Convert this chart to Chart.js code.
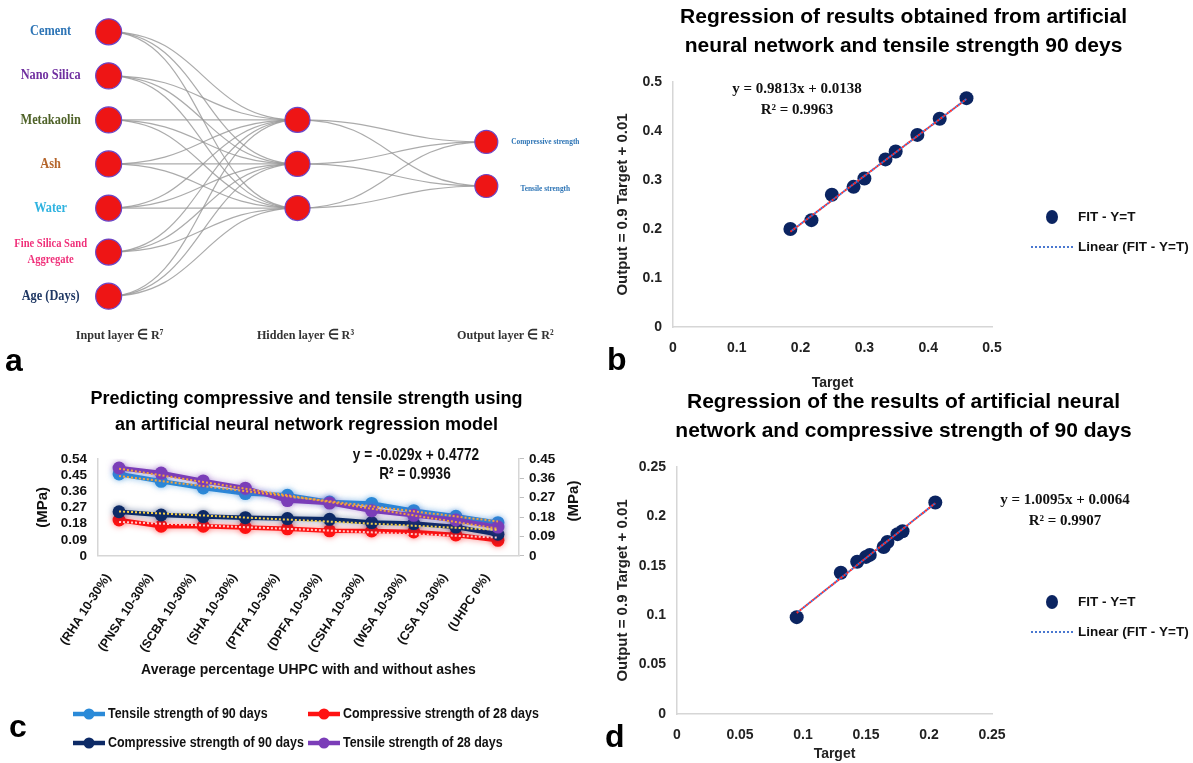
<!DOCTYPE html>
<html><head><meta charset="utf-8">
<script src="https://cdn.jsdelivr.net/npm/chart.js@4.4.1/dist/chart.umd.min.js"></script>
<style>
html,body{margin:0;padding:0;background:#fff;width:1193px;height:763px;overflow:hidden;position:relative;}
canvas{position:absolute;}
.lbl{position:absolute;font:bold 32px "Liberation Sans",Arial,sans-serif;color:#000;line-height:32px;}
</style></head><body>
<canvas id="ca" width="600" height="372" style="left:0px;top:0px"></canvas>
<canvas id="cb" width="593" height="392" style="left:600px;top:0px"></canvas>
<canvas id="cc" width="600" height="383" style="left:0px;top:380px"></canvas>
<canvas id="cd" width="593" height="378" style="left:600px;top:385px"></canvas>
<div class="lbl" style="left:5px;top:344px">a</div>
<div class="lbl" style="left:607px;top:343px">b</div>
<div class="lbl" style="left:9px;top:710px">c</div>
<div class="lbl" style="left:605px;top:720px">d</div>
<script>
// ---------------- DATA ----------------
const inputNodes = ['Cement', 'Nano Silica', 'Metakaolin', 'Ash', 'Water', 'Fine Silica Sand\nAggregate', 'Age (Days)'];
const hiddenNodeCount = 3;
const outputNodes = ['Compressive strength', 'Tensile strength'];
const layerTitles = ['Input layer \u2208 R\u2077', 'Hidden layer \u2208 R\u00B3', 'Output layer \u2208 R\u00B2'];

const bTarget = [0.184, 0.217, 0.249, 0.283, 0.300, 0.333, 0.349, 0.383, 0.418, 0.460];
const bOutput = [0.200, 0.218, 0.270, 0.286, 0.303, 0.342, 0.358, 0.392, 0.425, 0.467];
const bSlope = 0.9813, bIntercept = 0.0138, bR2 = '0.9963';
const bTicks = [0, 0.1, 0.2, 0.3, 0.4, 0.5];

const dTarget = [0.095, 0.130, 0.143, 0.150, 0.153, 0.164, 0.167, 0.175, 0.179, 0.205];
const dOutput = [0.098, 0.143, 0.154, 0.159, 0.161, 0.169, 0.174, 0.182, 0.185, 0.214];
const dSlope = 1.0095, dIntercept = 0.0064, dR2 = '0.9907';
const dTicks = [0, 0.05, 0.1, 0.15, 0.2, 0.25];

const cCategories = ['(RHA 10-30%)', '(PNSA 10-30%)', '(SCBA 10-30%)', '(SHA 10-30%)', '(PTFA 10-30%)', '(DPFA 10-30%)', '(CSHA 10-30%)', '(WSA 10-30%)', '(CSA 10-30%)', '(UHPC 0%)'];
const tensile90 = [0.456, 0.415, 0.378, 0.347, 0.337, 0.300, 0.292, 0.252, 0.221, 0.185];
const compressive28 = [0.200, 0.166, 0.166, 0.159, 0.151, 0.140, 0.139, 0.134, 0.117, 0.087];
const compressive90 = [0.246, 0.228, 0.219, 0.213, 0.208, 0.204, 0.186, 0.180, 0.161, 0.121];
const tensile28 = [0.489, 0.461, 0.417, 0.377, 0.308, 0.294, 0.252, 0.226, 0.200, 0.161];
const cLeftTicks = [0, 0.09, 0.18, 0.27, 0.36, 0.45, 0.54];
const cRightTicks = [0, 0.09, 0.18, 0.27, 0.36, 0.45];
const cEquation = ['y = -0.029x + 0.4772', 'R\u00B2 = 0.9936'];

// ---------------- STYLE ----------------
const SANS = '"Liberation Sans", Arial, sans-serif';
const SERIF = '"Liberation Serif", "Times New Roman", serif';
const inputColors = ['#2E75B6', '#7030A0', '#4F6228', '#B5652B', '#2FB3E0', '#F0307A', '#1F3864'];

Chart.defaults.animation = false;
Chart.defaults.responsive = false;
Chart.defaults.devicePixelRatio = 1;
Chart.defaults.plugins.legend.display = false;
Chart.defaults.plugins.tooltip.enabled = false;
Chart.defaults.color = '#111';

function fixedTicks(arr) { return s => { s.ticks = arr.map(v => ({ value: v })); }; }
// draws text horizontally condensed (the reference uses a narrow face)
function narrowText(ctx, text, x, y, sx, rot) {
  ctx.save(); ctx.translate(x, y); if (rot) ctx.rotate(rot); ctx.scale(sx, 1); ctx.fillText(text, 0, 0); ctx.restore();
}

// ---------------- PANEL A ----------------
const hiddenOffset = (inputNodes.length - hiddenNodeCount) / 2;
const outputOffset = (inputNodes.length - outputNodes.length) / 2;
const edgePlugin = {
  id: 'edges',
  beforeDatasetsDraw(chart) {
    const ctx = chart.ctx;
    const layers = [0, 1, 2].map(i => chart.getDatasetMeta(i).data);
    ctx.save();
    ctx.strokeStyle = 'rgba(150,150,150,0.8)';
    ctx.lineWidth = 1.2;
    for (let l = 0; l < 2; l++) for (const a of layers[l]) for (const b of layers[l + 1]) {
      const mx = (a.x + b.x) / 2;
      ctx.beginPath(); ctx.moveTo(a.x, a.y); ctx.bezierCurveTo(mx, a.y, mx, b.y, b.x, b.y); ctx.stroke();
    }
    ctx.restore();
  },
  afterDatasetsDraw(chart) {
    const ctx = chart.ctx;
    const inp = chart.getDatasetMeta(0).data, out = chart.getDatasetMeta(2).data;
    ctx.save();
    ctx.textAlign = 'center'; ctx.textBaseline = 'middle';
    inputNodes.forEach((name, i) => {
      const lines = name.split('\n');
      ctx.fillStyle = inputColors[i];
      ctx.font = 'bold ' + (lines.length > 1 ? 12 : 14) + 'px ' + SERIF;
      lines.forEach((t, k) => narrowText(ctx, t, inp[i].x - 58, inp[i].y + (k - (lines.length - 1) / 2) * 16, 0.88));
    });
    ctx.fillStyle = '#2E75B6';
    ctx.font = 'bold 8px ' + SERIF;
    outputNodes.forEach((name, i) => narrowText(ctx, name, out[i].x + 59, out[i].y + (i ? 3 : 0), 0.92));
    ctx.fillStyle = '#333';
    ctx.font = 'bold 13.5px ' + SERIF;
    const ty = chart.scales.y.getPixelForValue(6.9);
    const offs = [11, 8, 19];
    layerTitles.forEach((t, i) => narrowText(ctx, t, chart.scales.x.getPixelForValue(i) + offs[i], ty, 0.9));
    ctx.restore();
  }
};
const nodeStyle = { backgroundColor: '#EE1515', borderColor: '#6B46C8', borderWidth: 1.2 };
new Chart(document.getElementById('ca'), {
  type: 'scatter',
  data: {
    datasets: [
      { data: inputNodes.map((_, i) => ({ x: 0, y: i })), pointRadius: 13, ...nodeStyle },
      { data: Array.from({ length: hiddenNodeCount }, (_, i) => ({ x: 1, y: hiddenOffset + i })), pointRadius: 12.5, ...nodeStyle },
      { data: outputNodes.map((_, i) => ({ x: 2, y: outputOffset + i })), pointRadius: 11.5, ...nodeStyle }
    ]
  },
  options: {
    layout: { padding: { left: 12.25, right: 19.25, top: 1.33, bottom: 6.67 } },
    scales: {
      x: { type: 'linear', display: false, min: -0.5, max: 2.5 },
      y: { type: 'linear', display: false, reverse: true, min: -0.4, max: 7.4 }
    }
  },
  plugins: [edgePlugin]
});

// ---------------- REGRESSION PANELS (b, d) ----------------
const textPlugin = {
  id: 'texts',
  afterDraw(chart, args, o) {
    const ctx = chart.ctx; ctx.save();
    (o.items || []).forEach(it => {
      ctx.font = it.font; ctx.fillStyle = it.color || '#111';
      ctx.textAlign = it.align || 'center'; ctx.textBaseline = 'middle';
      narrowText(ctx, it.text, it.x, it.y, it.sx || 1, it.rot || 0);
    });
    ctx.restore();
  }
};
const fitLegendPlugin = {
  id: 'fitLegend',
  afterDraw(chart, args, o) {
    if (!o.show) return;
    const ctx = chart.ctx; const ds = chart.data.datasets;
    ctx.save();
    ctx.fillStyle = ds[o.pointDs].backgroundColor;
    ctx.beginPath(); ctx.ellipse(o.dotX, o.y1, 6, 7, 0, 0, Math.PI * 2); ctx.fill();
    ctx.strokeStyle = '#4A78D0'; ctx.lineWidth = 2; ctx.setLineDash([2, 2]);
    ctx.beginPath(); ctx.moveTo(o.lineX0, o.y2); ctx.lineTo(o.lineX1, o.y2); ctx.stroke();
    ctx.setLineDash([]);
    ctx.fillStyle = '#111'; ctx.font = 'bold 13.5px ' + SANS; ctx.textAlign = 'left'; ctx.textBaseline = 'middle';
    ctx.fillText(ds[o.pointDs].label, o.textX, o.y1);
    ctx.fillText(ds[o.lineDs].label, o.textX, o.y2);
    ctx.restore();
  }
};

function regressionChart(id, xs, ys, slope, intercept, r2, ticks, title, yWidth, xHeight, eqX, eqY) {
  const xmin = Math.min(...xs), xmax = Math.max(...xs);
  const fitLine = [{ x: xmin, y: slope * xmin + intercept }, { x: xmax, y: slope * xmax + intercept }];
  const tickFont = { family: SANS, size: 14, weight: 'bold' };
  const eq = 'y = ' + slope.toFixed(4) + 'x + ' + intercept.toFixed(4);
  return new Chart(document.getElementById(id), {
    type: 'scatter',
    data: {
      datasets: [
        { label: 'Linear (FIT - Y=T)', type: 'line', data: fitLine, borderColor: '#FF2A2A', borderWidth: 2, borderDash: [2, 2], pointRadius: 0, order: 0 },
        { label: 'Linear (FIT - Y=T)', type: 'line', data: fitLine, borderColor: '#3D6FD6', borderWidth: 2, borderDash: [2, 2], borderDashOffset: 2, pointRadius: 0, order: 0 },
        { label: 'FIT - Y=T', data: xs.map((x, i) => ({ x, y: ys[i] })), backgroundColor: '#0B2461', borderWidth: 0, pointRadius: 7, order: 1 }
      ]
    },
    options: {
      layout: { padding: { left: 14, right: 0, top: 0, bottom: 0 } },
      plugins: {
        title: { display: true, text: title, font: { family: SANS, size: 21, weight: 'bold', lineHeight: 1.38 }, color: '#000', padding: { top: 2.5, bottom: 21.5 } },
        texts: { items: [
          { text: eq, x: eqX, y: eqY, font: 'bold 15px ' + SERIF },
          { text: 'R\u00B2 = ' + r2, x: eqX, y: eqY + 21, font: 'bold 15px ' + SERIF }
        ] },
        fitLegend: { show: true, pointDs: 2, lineDs: 1, dotX: 452, lineX0: 431, lineX1: 474, textX: 478, y1: 217, y2: 247 }
      },
      scales: {
        x: {
          type: 'linear', min: ticks[0], max: ticks[ticks.length - 1], afterBuildTicks: fixedTicks(ticks),
          grid: { display: false, drawTicks: false }, border: { display: true, color: '#d6d6d6', width: 1.5 },
          ticks: { padding: 13, font: tickFont, color: '#222', callback: v => String(v) },
          title: { display: true, text: 'Target', font: { family: SANS, size: 14, weight: 'bold' }, color: '#222', padding: { top: 0, bottom: 0 } },
          afterFit: s => { s.height = xHeight; }
        },
        y: {
          type: 'linear', min: ticks[0], max: ticks[ticks.length - 1], afterBuildTicks: fixedTicks(ticks),
          grid: { display: false, drawTicks: false }, border: { display: true, color: '#d6d6d6', width: 1.5 },
          ticks: { padding: 11, font: tickFont, color: '#222', autoSkip: false, callback: v => String(v) },
          title: { display: true, text: 'Output = 0.9 Target + 0.01', font: { family: SANS, size: 15, weight: 'bold' }, color: '#222', padding: { top: 0, bottom: 0 } },
          afterFit: s => { s.width = yWidth; }
        },
        legendSpace: {
          position: 'right', display: true, min: 0, max: 1,
          grid: { display: false, drawTicks: false }, border: { display: false }, ticks: { display: false },
          afterFit: s => { s.width = 201; }
        }
      }
    },
    plugins: [textPlugin, fitLegendPlugin]
  });
}

regressionChart('cb', bTarget, bOutput, bSlope, bIntercept, bR2, bTicks,
  ['Regression of results obtained from artificial', 'neural network and tensile strength 90 deys'], 59, 65, 197, 89);
regressionChart('cd', dTarget, dOutput, dSlope, dIntercept, dR2, dTicks,
  ['Regression of the results of artificial neural', 'network and compressive strength of 90 days'], 63, 49, 465, 115);

// ---------------- PANEL C ----------------
function linFit(vals) {
  const n = vals.length, xs = vals.map((_, i) => i + 1);
  const mx = xs.reduce((a, b) => a + b) / n, my = vals.reduce((a, b) => a + b) / n;
  let sxy = 0, sxx = 0;
  xs.forEach((x, i) => { sxy += (x - mx) * (vals[i] - my); sxx += (x - mx) * (x - mx); });
  const m = sxy / sxx, b = my - m * mx;
  return xs.map(x => m * x + b);
}
const cSeries = [
  { label: 'Tensile strength of 90 days', data: tensile90, color: '#2A8AD8', glow: 'rgba(42,138,216,0.55)', trend: '#F3A33A', order: 3 },
  { label: 'Compressive strength of 28 days', data: compressive28, color: '#FF1212', glow: 'rgba(255,18,18,0.5)', trend: '#FFC9C9', order: 4 },
  { label: 'Compressive strength of 90 days', data: compressive90, color: '#0D2A66', glow: 'rgba(13,42,102,0.5)', trend: '#F6D04A', order: 2 },
  { label: 'Tensile strength of 28 days', data: tensile28, color: '#7B3DB8', glow: 'rgba(123,61,184,0.5)', trend: '#F3A33A', order: 1 }
];
const cDatasets = cSeries.map(s => ({
  label: s.label, data: s.data, borderColor: s.color, backgroundColor: s.color, glow: s.glow,
  borderWidth: 4.5, pointRadius: 6.5, pointBorderWidth: 0, pointBackgroundColor: s.color, order: s.order, yAxisID: 'y'
})).concat(cSeries.map(s => ({
  label: s.label + ' trend', isTrend: true, data: linFit(s.data), borderColor: s.trend, borderWidth: 2,
  borderDash: [2, 2], pointRadius: 0, order: 0, yAxisID: 'y'
})));

const glowPlugin = {
  id: 'glow',
  beforeDatasetDraw(chart, args) {
    const d = chart.data.datasets[args.index];
    chart.ctx.save();
    if (d.glow) { chart.ctx.shadowColor = d.glow; chart.ctx.shadowBlur = 6; }
  },
  afterDatasetDraw(chart) { chart.ctx.restore(); }
};
const gridLegendPlugin = {
  id: 'gridLegend',
  afterDraw(chart, args, o) {
    const ctx = chart.ctx; ctx.save();
    ctx.font = o.font; ctx.textBaseline = 'middle'; ctx.textAlign = 'left';
    chart.data.datasets.filter(d => !d.isTrend).forEach((d, i) => {
      const x = o.cols[i % 2], y = o.rows[Math.floor(i / 2)];
      ctx.strokeStyle = d.borderColor; ctx.lineWidth = 4.5;
      ctx.beginPath(); ctx.moveTo(x, y); ctx.lineTo(x + o.len, y); ctx.stroke();
      ctx.fillStyle = d.borderColor; ctx.beginPath(); ctx.arc(x + o.len / 2, y, 5.5, 0, Math.PI * 2); ctx.fill();
      ctx.fillStyle = '#111'; narrowText(ctx, d.label, x + o.len + 3, y, o.sx);
    });
    ctx.restore();
  }
};
const cTickFont = { family: SANS, size: 13.5, weight: 'bold' };
new Chart(document.getElementById('cc'), {
  type: 'line',
  data: { labels: cCategories, datasets: cDatasets },
  options: {
    layout: { padding: { left: 30, right: 17, top: 0, bottom: 84 } },
    plugins: {
      title: { display: true, text: ['Predicting compressive and tensile strength using', 'an artificial neural network regression model'],
        font: { family: SANS, size: 18, weight: 'bold', lineHeight: 1.44 }, color: '#000', padding: { top: 6, bottom: 21 } },
      texts: { items: [
        { text: cEquation[0], x: 416, y: 75, font: 'bold 17px ' + SANS, sx: 0.8 },
        { text: cEquation[1], x: 415, y: 94, font: 'bold 17px ' + SANS, sx: 0.8 },
        { text: '(MPa)', x: 574, y: 121, font: 'bold 15px ' + SANS, rot: -Math.PI / 2 }
      ] },
      gridLegend: { cols: [73, 308], rows: [334, 363], len: 32, font: 'bold 15px ' + SANS, sx: 0.83 }
    },
    scales: {
      x: {
        type: 'category', offset: true,
        grid: { display: false, drawTicks: false }, border: { display: true, color: '#d6d6d6', width: 1.5 },
        ticks: { maxRotation: 57, minRotation: 57, padding: 15, labelOffset: -11, autoSkip: false, font: { family: SANS, size: 12.5, weight: 'bold' }, color: '#111' },
        title: { display: true, text: 'Average percentage UHPC with and without ashes', font: { family: SANS, size: 14, weight: 'bold' }, color: '#111', padding: { top: 0, bottom: 0 } },
        afterFit: s => { s.height = 123; }
      },
      y: {
        position: 'left', min: 0, max: cLeftTicks[cLeftTicks.length - 1], afterBuildTicks: fixedTicks(cLeftTicks),
        grid: { display: false, drawTicks: false }, border: { display: true, color: '#d6d6d6', width: 1.5 },
        ticks: { padding: 11, font: cTickFont, color: '#111', autoSkip: false, callback: v => String(v) },
        title: { display: true, text: '(MPa)', font: { family: SANS, size: 15, weight: 'bold' }, color: '#111', padding: { top: 4, bottom: 0 } },
        afterFit: s => { s.width = 68; }
      },
      y2: {
        position: 'right', min: 0, max: cRightTicks[cRightTicks.length - 1], afterBuildTicks: fixedTicks(cRightTicks),
        grid: { display: true, drawOnChartArea: false, drawTicks: true, tickLength: 5, color: '#bfbfbf' },
        border: { display: true, color: '#d6d6d6', width: 1.5 },
        ticks: { padding: 5, font: cTickFont, color: '#111', autoSkip: false, callback: v => String(v) },
        afterFit: s => { s.width = 64; }
      }
    }
  },
  plugins: [glowPlugin, textPlugin, gridLegendPlugin]
});
</script>
</body></html>
